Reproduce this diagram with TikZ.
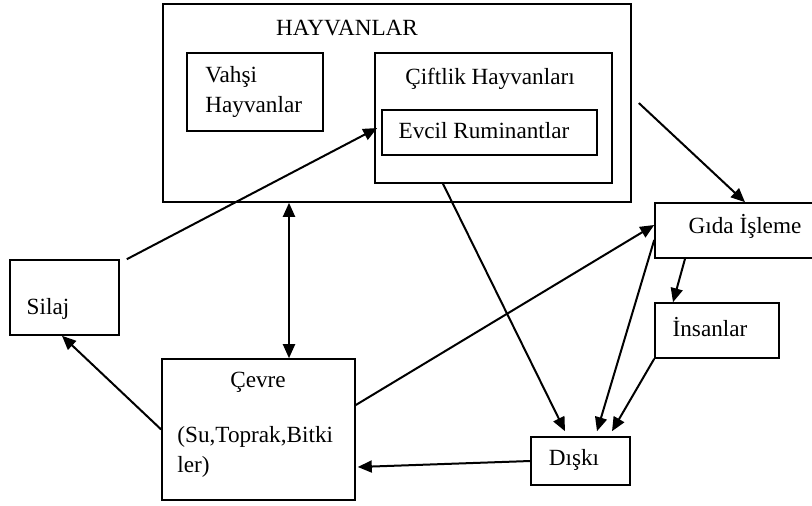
\documentclass[tikz,border=0pt]{standalone}
\usepackage{fontspec}
\setmainfont{Liberation Serif}
\usetikzlibrary{arrows.meta,positioning}
\tikzset{
  box/.style={draw=black,line width=0.8pt,inner sep=0pt},
  label/.style={font=\fontsize{11.6}{15}\selectfont,inner sep=0pt,align=left},
  tip/.style={Triangle[length=7pt,width=6pt]},
  arrow/.style={-{Triangle[length=7pt,width=6pt]},line width=1pt,draw=black}
}
\begin{document}
\begin{tikzpicture}[x=0.5pt,y=-0.5pt]
  \useasboundingbox (0,0) rectangle (812,505);

  % boxes
  \node (hayvan) [box,minimum width=234pt,minimum height=99pt] at (397,103) {};
  \node (vahsi) [box,minimum width=68pt,minimum height=39pt] at (255,92) {};
  \node (ciftlik) [box,minimum width=118.5pt,minimum height=65pt] at (493.5,118) {};
  \node (evcil) [box,minimum width=107.5pt,minimum height=22.5pt] at (489.5,132.5) {};
  \node (gida) [box,minimum width=80.5pt,minimum height=27.5pt] at (735.5,230.5) {};
  \node (insan) [box,minimum width=62pt,minimum height=27.5pt] at (717,330.5) {};
  \node (silaj) [box,minimum width=54.5pt,minimum height=37.5pt] at (64.5,297.5) {};
  \node (cevre) [box,minimum width=96.5pt,minimum height=70.5pt] at (258.5,429.5) {};
  \node (diski) [box,minimum width=49.5pt,minimum height=24pt] at (580.5,461) {};

  % texts
  \node (hayvantxt) [label] at (347,28) {HAYVANLAR};
  \node (vahsitxt) [label,anchor=west] at (205,92) {Vahşi\\Hayvanlar};
  \node (cifttxt) [label] at (490,79) {Çiftlik Hayvanları};
  \node (evciltxt) [label] at (484,131) {Evcil Ruminantlar};
  \node (gidatxt) [label] at (745,226) {Gıda İşleme};
  \node (insantxt) [label] at (710,327) {İnsanlar};
  \node (silajtxt) [label] at (48,309) {Silaj};
  \node (cevretxt) [label] at (258,382) {Çevre};
  \node (cevrealt) [label,anchor=west] at (177,452) {(Su,Toprak,Bitki\\ler)};
  \node (diskitxt) [label] at (574,460) {Dışkı};

  % connectors
  \draw[arrow] ([xshift=3.5pt]silaj.north east) -- ([xshift=-2pt,yshift=2.25pt]evcil.west);
  \draw[arrow,{Triangle[length=7pt,width=6pt]}-{Triangle[length=7pt,width=6pt]}] ([xshift=-54pt]hayvan.south) -- ([xshift=-54pt]hayvan.south |- cevre.north);
  \draw[arrow] ([xshift=-25.25pt]ciftlik.south) -- ([xshift=-7.75pt,yshift=2.5pt]diski.north);
  \draw[arrow] ([xshift=3.5pt]hayvan.east) -- ([xshift=4.75pt]gida.north);
  \draw[arrow] ([yshift=12.25pt]cevre.east) -- ([yshift=2.75pt]gida.west);
  \draw[arrow] ([xshift=-25.25pt]gida.south) -- ([xshift=-22pt]insan.north);
  \draw[arrow] ([yshift=-4.75pt]gida.west) -- ([xshift=8.25pt,yshift=2.5pt]diski.north);
  \draw[arrow] (insan.south west) -- ([xshift=15.75pt,yshift=2.5pt]diski.north);
  \draw[arrow] (diski.west) -- ([xshift=1pt,yshift=-18.75pt]cevre.east);
  \draw[arrow] (cevre.west) -- ([xshift=-1.25pt]silaj.south);
\end{tikzpicture}
\end{document}
